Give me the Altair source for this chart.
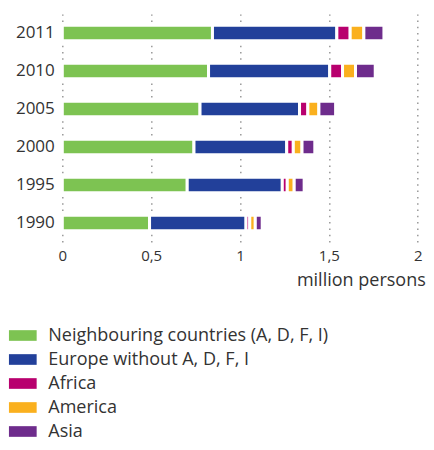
import altair as alt
import pandas as pd

years = ["2011", "2010", "2005", "2000", "1995", "1990"]
categories = ["Neighbouring countries (A, D, F, I)", "Europe without A, D, F, I",
              "Africa", "America", "Asia"]
colors = ["#7DC352", "#22409A", "#B8006E", "#FAB01E", "#6E2C8C"]

neighbouring = [0.845, 0.823, 0.775, 0.741, 0.703, 0.491]
europe = [0.700, 0.682, 0.560, 0.522, 0.535, 0.543]
africa = [0.075, 0.072, 0.047, 0.037, 0.028, 0.021]
america = [0.077, 0.073, 0.062, 0.049, 0.039, 0.031]
asia = [0.113, 0.111, 0.094, 0.072, 0.056, 0.039]

series = [neighbouring, europe, africa, america, asia]
rows = []
for ci, (cat, vals) in enumerate(zip(categories, series)):
    for y, v in zip(years, vals):
        rows.append({"year": y, "category": cat, "value": v, "order": ci})
df = pd.DataFrame(rows)

FONT = "Open Sans"
TXT = "#333333"

chart = alt.Chart(df).mark_bar(stroke="white", strokeWidth=3).encode(
    x=alt.X("value:Q", stack="zero",
            scale=alt.Scale(domain=[0, 2], nice=False, zero=True),
            axis=alt.Axis(values=[0, 0.5, 1, 1.5, 2],
                          labelExpr="replace(toString(datum.value), '.', ',')",
                          title="million persons", titleFont=FONT, titleFontSize=18,
                          titleFontWeight="normal", titleColor=TXT,
                          titleAlign="right", titleBaseline="alphabetic",
                          titleX=363, titleY=43, titleAnchor="end",
                          grid=True, gridDash=[1.5, 4.8], gridColor="#999999",
                          gridWidth=1.5, domain=False, ticks=False, tickSize=0,
                          labelPadding=6, labelFont=FONT, labelFontSize=15,
                          labelColor=TXT, labelFlush=False)),
    y=alt.Y("year:N", sort=years,
            scale=alt.Scale(paddingInner=0.5895, paddingOuter=0.295),
            axis=alt.Axis(title=None, domain=False, ticks=False, tickSize=0,
                          labelPadding=8, labelFont=FONT, labelFontSize=17,
                          labelColor=TXT, grid=False)),
    color=alt.Color("category:N", sort=categories,
                    scale=alt.Scale(domain=categories, range=colors),
                    legend=alt.Legend(title=None, orient="none", direction="vertical",
                                      legendX=-48.5, legendY=312.5,
                                      symbolType="M-2,-0.77H2V0.77H-2Z",
                                      symbolSize=192, symbolStrokeWidth=0,
                                      labelFont=FONT, labelFontSize=18,
                                      labelColor=TXT, labelOffset=16.5,
                                      rowPadding=6, labelLimit=400,
                                      padding=0)),
    order=alt.Order("order:Q"),
).properties(
    width=355.4, height=228,
    autosize=alt.AutoSizeParams(type="none"),
    padding={"left": 54.3, "top": 6, "right": 8.3, "bottom": 200},
).configure_view(stroke=None)

chart.save("out.html", embed_options={"renderer": "svg", "actions": False})
